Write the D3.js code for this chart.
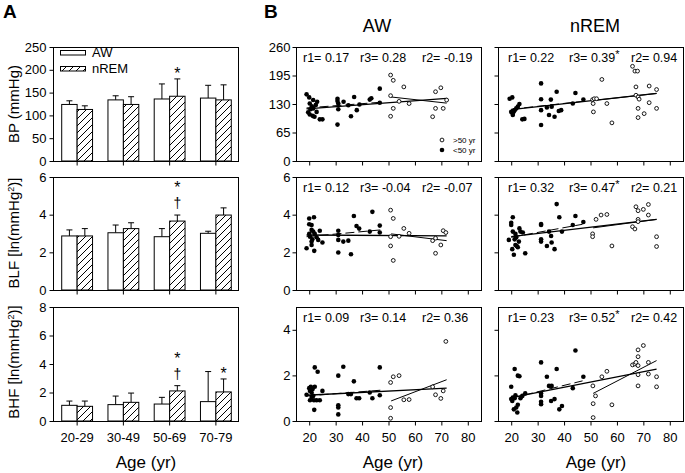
<!DOCTYPE html>
<html><head><meta charset="utf-8">
<script src="https://cdn.jsdelivr.net/npm/d3@7"></script>
<style>
body{margin:0;background:#fff}
text{font-family:"Liberation Sans",Arial,sans-serif;fill:#000}
</style>
</head><body>
<svg id="c" width="685" height="473"></svg>
<script>
// ---------- Panel A data ----------
const ageGroups = ["20-29","30-49","50-69","70-79"];
const bpAW = [124,134,136,138];      const bpAWsd = [8,9,33,28];
const bpREM = [113,124,142,134];     const bpREMsd = [8,17,38,33];
const blfAW = [2.87,3.04,2.83,3.01]; const blfAWsd = [0.32,0.41,0.43,0.11];
const blfREM = [2.87,3.26,3.66,3.98];const blfREMsd = [0.39,0.31,0.32,0.38];
const bhfAW = [1.10,1.15,1.19,1.36]; const bhfAWsd = [0.30,0.60,0.47,2.11];
const bhfREM = [1.03,1.31,2.11,2.04];const bhfREMsd = [0.37,0.65,0.37,0.91];
const bpMarks = [[], [], ["*"], []];
const blfMarks = [[], [], ["*","†"], []];
const bhfMarks = [[], [], ["*","†"], ["*"]];
const bpTicks = [0,50,100,150,200,250];
const blfTicks = [0,2,4,6];
const bhfTicks = [0,2,4,6,8];

// ---------- Panel B data (age, value) ----------
const awBPyoung = [[19,152],[20,145],[20.2,131],[21,125],[21.5,120],[19.6,111],[20.2,106],[21.3,103],[22,101],[22.8,112],[23,135],[21.5,139],[24,95],[25,95],[20.5,118],[22.5,128],[30.7,142],[30.7,137],[31,131],[31,118],[30.7,83],[33,135],[34.8,127],[35.8,102],[37,146],[38,116],[39,129],[42.9,140],[43.5,143],[46.7,165],[46.7,133]];
const awBPold = [[50.8,196],[51.8,184],[55.8,169],[50.8,149],[54,136],[57.8,131],[51.8,120],[50.8,102],[67.8,158],[69.8,167],[72,139],[67.8,120],[70.7,120],[66.7,101]];
const remBPyoung = [[19.4,142],[20.4,145],[20,112],[20.6,108],[21.3,116],[21.9,120],[22.5,124],[23.1,130],[20.6,105],[21,113],[24.2,95],[25,96],[31.3,177],[31.3,141],[31.3,116],[31.3,82],[33.5,122],[34.3,105],[35,140],[35.3,124],[36.4,101],[37.2,158],[38,114],[38.9,116],[43.3,131],[44.3,155],[47.3,140]];
const remBPold = [[50.8,140],[51.4,142],[52.3,142],[51,131],[51.1,112],[54.3,186],[56.2,131],[58.1,87],[65.9,216],[66.8,205],[67.8,205],[67.2,169],[67.2,150],[68,146],[68.4,141],[68,120],[68,99],[70.3,108],[72.2,171],[72.2,133],[75,163],[75,120]];
const awBLFyoung = [[19,2.22],[20,3.80],[20,3.49],[20.9,3.45],[20.9,3.19],[20.3,2.83],[20.9,2.57],[20.9,2.39],[21.8,3.86],[21.5,3.10],[22.1,2.98],[22.8,2.80],[23.4,2.66],[21.9,2.08],[24,3.15],[25,2.52],[20,2.98],[21.2,2.69],[31,3.15],[31,2.92],[31,2.66],[31,1.99],[32.9,2.57],[34.8,2.62],[35.8,1.90],[36.9,3.93],[37.9,3.40],[38.9,3.26],[42.9,3.10],[43.9,4.15],[46.7,3.42],[46.7,3.05]];
const awBLFold = [[50.8,4.24],[51.8,3.80],[50.8,2.83],[50.8,2.34],[51.8,1.57],[54,2.85],[55.8,3.27],[57.8,3.01],[66.7,2.62],[67.8,2.75],[67.8,1.95],[69.8,2.39],[70.7,3.15],[71.7,3.05]];
const remBLFyoung = [[19.1,2.66],[20,3.57],[20,3.45],[20.6,3.86],[20.6,3.10],[20.4,2.17],[21,1.87],[21.3,2.69],[21.6,2.98],[21.9,2.80],[22.1,2.34],[22.5,2.27],[22.9,2.57],[23.1,3.27],[23.5,3.10],[24.4,3.05],[21.6,2.39],[25.3,1.95],[31.3,3.50],[31.3,3.45],[31.3,2.69],[31.3,2.57],[33.5,2.34],[34.3,3.10],[35.1,2.87],[35.3,2.52],[36.4,2.17],[37.2,4.56],[38.2,3.86],[39.2,3.10],[43.3,3.45],[44.3,3.93],[47.3,3.61]];
const remBLFold = [[50.8,2.98],[50.8,2.83],[52.1,3.75],[54,3.98],[56.2,4.01],[58.1,2.34],[65.9,3.36],[66.8,3.24],[67.2,4.42],[68,4.21],[68,3.75],[68,3.63],[70,4.28],[71.9,4.54],[71.9,3.98],[75,2.83],[75,2.31]];
const awBHFyoung = [[19,1.15],[20,1.44],[20.3,1.32],[20.6,1.50],[20.9,1.25],[21.3,1.40],[21.5,1.10],[21.8,0.91],[20.3,0.91],[22.1,1.50],[22.1,2.35],[23.2,2.16],[22.8,0.91],[24,0.91],[21.9,0.49],[25,1.32],[20.9,1.05],[31,1.99],[31,0.69],[31,0.59],[31,0.29],[32.9,2.38],[34.8,1.18],[35.8,1.18],[36.9,1.74],[37.9,1.00],[38.9,1.00],[42.9,1.25],[43.9,1.00],[46.7,2.35],[46.7,1.13]];
const awBHFold = [[50.8,1.69],[51.8,1.94],[54,1.99],[50.8,0.59],[50.8,0.12],[55.8,0.93],[57.8,0.94],[66.7,1.50],[67.8,1.15],[69.8,0.99],[70.7,1.32],[71.7,3.49]];
const remBHFyoung = [[20,1.50],[20,0.96],[20.4,0.88],[20.6,1.03],[21.3,2.28],[21.3,1.00],[21.6,1.13],[21,0.51],[21.9,0.59],[22.3,0.37],[22.5,0.71],[22.5,1.99],[23.1,1.96],[23.5,1.00],[24.2,1.10],[25.3,1.21],[31.3,2.57],[31.3,1.21],[31.3,1.10],[31.3,0.84],[31.3,0.74],[33.5,1.94],[34.3,1.54],[35.1,0.88],[35.3,1.54],[36.4,0.96],[37.2,2.28],[38.2,0.51],[39.2,0.66],[43.3,1.44],[44.3,3.09],[47.3,1.94]];
const remBHFold = [[50.9,1.54],[51.9,1.10],[51,0.76],[51,0.15],[54.3,1.94],[56.2,2.18],[58.1,0.71],[65.9,2.46],[66.8,2.50],[67.2,2.57],[68,3.12],[68,2.82],[68,2.43],[68,2.03],[68,1.54],[70,3.31],[71.9,2.57],[71.9,2.06],[75,1.94],[75,1.50]];

// regression line end points: [all, young(dashed), old]
const awBPfits  = [[[19,119],[72,143]], [[19,121],[47,134]], [[51,146],[72,132]]];
const remBPfits = [[[20,117],[75,154]], [[20,118],[47,136]], [[51,138],[75,154]]];
const awBLFfits = [[[19,2.92],[72,2.87]], [[19,2.83],[47,3.19]], [[51,2.98],[72,2.62]]];
const remBLFfits= [[[20,2.83],[75,3.75]], [[20,2.80],[47,3.49]], [[51,3.30],[75,3.75]]];
const awBHFfits = [[[19,1.13],[72,1.44]], [[19,1.10],[47,1.35]], [[51,0.88],[72,1.81]]];
const remBHFfits= [[[20,1.03],[75,2.28]], [[20,1.00],[47,1.76]], [[51,1.21],[75,2.65]]];

const rAW  = [["0.17","0.28","-0.19"],["0.12","-0.04","-0.07"],["0.09","0.14","0.36"]];
const rREM = [["0.22","0.39","0.94"],["0.32","0.47","0.21"],["0.23","0.52","0.42"]];
const r3StarAW = [false,false,false];
const r3StarREM = [true,true,true];
const ageTicks = [20,30,40,50,60,70,80];
const bpRowTicks = [0,65,130,195,260];
const blfRowTicks = [0,2,4,6];
const bhfRowTicks = [0,2,4];

// ---------- drawing ----------
const svg = d3.select("#c");
const defs = svg.append("defs");
const pat = defs.append("pattern").attr("id","hatch").attr("patternUnits","userSpaceOnUse")
  .attr("width",7).attr("height",7);
pat.append("rect").attr("width",7).attr("height",7).attr("fill","#fff");
pat.append("path").attr("d","M-1,1 l2,-2 M0,7 l7,-7 M6,8 l2,-2").attr("stroke","#000").attr("stroke-width",1);

const rows = [{top:47,bot:161},{top:177,bot:290},{top:307,bot:421}];

function styleAxis(g){
  g.select(".domain").remove();
  g.selectAll(".tick line").attr("stroke","#000");
  g.selectAll(".tick text").attr("font-size",13).attr("font-family","Liberation Sans, Arial, sans-serif");
}

// Panel A
const ax0 = 53, ax1 = 238;
const xb = d3.scaleBand().domain(ageGroups).range([ax0+1, ax1+1]).padding(0);
const barW = xb.bandwidth()/3;
const barPanels = [
  {aw:bpAW, awsd:bpAWsd, rem:bpREM, remsd:bpREMsd, dom:[0,250], ticks:bpTicks, marks:bpMarks, row:0},
  {aw:blfAW, awsd:blfAWsd, rem:blfREM, remsd:blfREMsd, dom:[0,6], ticks:blfTicks, marks:blfMarks, row:1},
  {aw:bhfAW, awsd:bhfAWsd, rem:bhfREM, remsd:bhfREMsd, dom:[0,8], ticks:bhfTicks, marks:bhfMarks, row:2}
];
barPanels.forEach((p,i)=>{
  const r = rows[p.row];
  const y = d3.scaleLinear().domain(p.dom).range([r.bot, r.top]);
  const g = svg.append("g");
  ageGroups.forEach((cat,k)=>{
    const c = xb(cat) + xb.bandwidth()/2;
    [[p.aw[k],p.awsd[k],c-barW,"#fff"],[p.rem[k],p.remsd[k],c,"url(#hatch)"]].forEach(([v,sd,x,fill])=>{
      const yt = y(v+sd);
      g.append("line").attr("x1",x+barW/2).attr("x2",x+barW/2).attr("y1",y(v)).attr("y2",yt).attr("stroke","#000");
      g.append("line").attr("x1",x+barW/2-3).attr("x2",x+barW/2+3).attr("y1",yt).attr("y2",yt).attr("stroke","#000");
      g.append("rect").attr("x",x).attr("width",barW).attr("y",y(v)).attr("height",y(0)-y(v))
        .attr("fill",fill).attr("stroke","#000").attr("stroke-width",1);
    });
    const mk = p.marks[k];
    if(mk.length){
      const et = y(p.rem[k]+p.remsd[k]);
      const mx = c + barW/2;
      if(mk.length===1){
        g.append("text").attr("x",mx).attr("y",et).attr("text-anchor","middle").attr("font-size",16).text(mk[0]);
      } else {
        g.append("text").attr("x",mx).attr("y",et-22).attr("text-anchor","middle").attr("font-size",16).text(mk[0]);
        g.append("text").attr("x",mx).attr("y",et-7).attr("text-anchor","middle").attr("font-size",14).text(mk[1]);
      }
    }
  });
  g.append("rect").attr("x",ax0+0.5).attr("y",r.top+0.5).attr("width",ax1-ax0).attr("height",r.bot-r.top)
    .attr("fill","none").attr("stroke","#000");
  const ya = svg.append("g").attr("transform",`translate(${ax0+0.5},0)`)
    .call(d3.axisLeft(y).tickValues(p.ticks).tickSize(4).tickPadding(3).tickFormat(d3.format("d")));
  styleAxis(ya);
  const xa = svg.append("g").attr("transform",`translate(0,${r.bot+0.5})`)
    .call(d3.axisBottom(xb).tickSize(4).tickPadding(7).tickFormat(i===2? (d=>d) : ()=>""));
  styleAxis(xa);
});

// legend panel A
[["AW","#fff",50],["nREM","url(#hatch)",66]].forEach(([lab,fill,yy])=>{
  svg.append("rect").attr("x",60.5).attr("y",yy+0.5).attr("width",25).attr("height",4.5).attr("fill",fill).attr("stroke","#000");
  svg.append("text").attr("x",92).attr("y",yy+7).attr("font-size",13).text(lab);
});

// axis titles A
function vtitle(x,y,parts){
  const t = svg.append("text").attr("transform",`translate(${x},${y}) rotate(-90)`).attr("text-anchor","middle").attr("font-size",15);
  parts.forEach(([s,sup])=>{
    const ts = t.append("tspan").text(s);
    if(sup) ts.attr("font-size",9).attr("baseline-shift","super");
  });
}
vtitle(19,104,[["BP (mmHg)"]]);
vtitle(19,233,[["BLF [ln(mmHg"],["2",true],[")]"]]);
vtitle(19,362,[["BHF [ln(mmHg"],["2",true],[")]"]]);
svg.append("text").attr("x",146).attr("y",468).attr("text-anchor","middle").attr("font-size",17).text("Age (yr)");

svg.append("text").attr("x",3).attr("y",18).attr("font-size",19).attr("font-weight","bold").text("A");
svg.append("text").attr("x",264).attr("y",18).attr("font-size",19).attr("font-weight","bold").text("B");

// Panel B
const cols = [{x0:296,x1:481,title:"AW",tx:377,ax:393,r:rAW,star:r3StarAW},
              {x0:498,x1:683,title:"nREM",tx:595,ax:596,r:rREM,star:r3StarREM}];
const scatterSets = [
  [{young:awBPyoung, old:awBPold, fits:awBPfits},{young:remBPyoung, old:remBPold, fits:remBPfits}],
  [{young:awBLFyoung, old:awBLFold, fits:awBLFfits},{young:remBLFyoung, old:remBLFold, fits:remBLFfits}],
  [{young:awBHFyoung, old:awBHFold, fits:awBHFfits},{young:remBHFyoung, old:remBHFold, fits:remBHFfits}]
];
const rowDoms = [[0,260],[0,6],[0,5]];
const rowTicks = [bpRowTicks, blfRowTicks, bhfRowTicks];
const rBase = [62,191.5,322];

cols.forEach((col,ci)=>{
  const x = d3.scaleLinear().domain([15,85]).range([col.x0, col.x1]);
  svg.append("text").attr("x",col.tx).attr("y",32).attr("text-anchor","middle").attr("font-size",18).text(col.title);
  svg.append("text").attr("x",col.ax).attr("y",468).attr("text-anchor","middle").attr("font-size",17).text("Age (yr)");
  rows.forEach((r,ri)=>{
    const y = d3.scaleLinear().domain(rowDoms[ri]).range([r.bot, r.top]);
    const s = scatterSets[ri][ci];
    const g = svg.append("g");
    const line = d3.line().x(d=>x(d[0])).y(d=>y(d[1]));
    g.append("path").attr("d",line(s.fits[0])).attr("stroke","#000").attr("stroke-width",1.3).attr("fill","none");
    g.append("path").attr("d",line(s.fits[1])).attr("stroke","#000").attr("stroke-width",1).attr("stroke-dasharray","9,4").attr("fill","none");
    g.append("path").attr("d",line(s.fits[2])).attr("stroke","#000").attr("stroke-width",1).attr("fill","none");
    g.selectAll("circle.y").data(s.young).join("circle").attr("cx",d=>x(d[0])).attr("cy",d=>y(d[1])).attr("r",2.3).attr("fill","#000");
    g.selectAll("circle.o").data(s.old).join("circle").attr("cx",d=>x(d[0])).attr("cy",d=>y(d[1])).attr("r",1.9)
      .attr("fill","#fff").attr("stroke","#000").attr("stroke-width",0.9);
    g.append("rect").attr("x",col.x0+0.5).attr("y",r.top+0.5).attr("width",col.x1-col.x0).attr("height",r.bot-r.top)
      .attr("fill","none").attr("stroke","#000");
    const ya = svg.append("g").attr("transform",`translate(${col.x0+0.5},0)`)
      .call(d3.axisLeft(y).tickValues(rowTicks[ri]).tickSize(4).tickPadding(2).tickFormat(ci===0? d3.format("d") : ()=>""));
    styleAxis(ya);
    const xa = svg.append("g").attr("transform",`translate(0,${r.bot+0.5})`)
      .call(d3.axisBottom(x).tickValues(ageTicks).tickSize(4).tickPadding(7).tickFormat(ri===2? d3.format("d") : ()=>""));
    styleAxis(xa);
    // r labels
    const rv = col.r[ri];
    const offs = ci===0 ? [7,64,126] : [10,71,133];
    const names = ["r1","r3","r2"];
    [0,1,2].forEach(k=>{
      const t = svg.append("text").attr("x",col.x0+offs[k]).attr("y",rBase[ri]).attr("font-size",12.5)
        .text(`${names[k]}= ${rv[k]}`);
      if(k===1 && col.star[ri]){
        t.append("tspan").attr("font-size",11).attr("dy",-4).text("*");
      }
    });
  });
});

// legend in AW BP
svg.append("circle").attr("cx",442).attr("cy",140).attr("r",1.9).attr("fill","#fff").attr("stroke","#000").attr("stroke-width",0.9);
svg.append("circle").attr("cx",442).attr("cy",150).attr("r",2.3).attr("fill","#000");
svg.append("text").attr("x",453).attr("y",143).attr("font-size",8).text(">50 yr");
svg.append("text").attr("x",453).attr("y",153).attr("font-size",8).text("<50 yr");
</script>
</body></html>
